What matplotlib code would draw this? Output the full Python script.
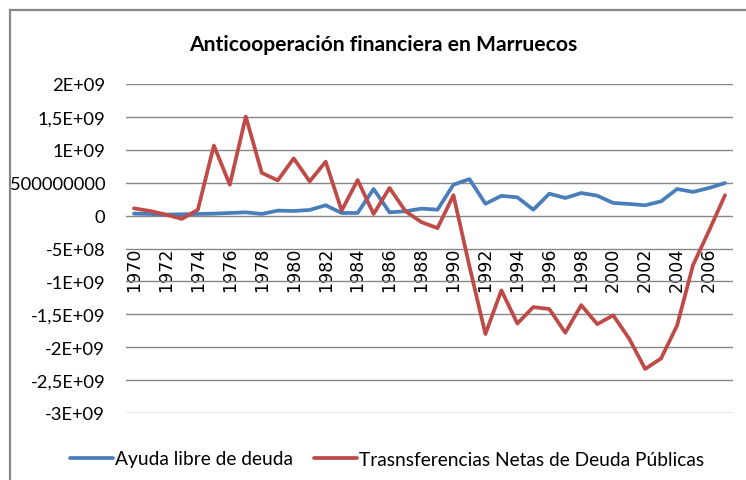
import numpy as np
import matplotlib
matplotlib.use("Agg")
import matplotlib.pyplot as plt
from matplotlib.lines import Line2D

years = list(range(1970, 2008))
ayuda = [3e7, 2.5e7, 1.5e7, 2e7, 2.5e7, 3e7, 4e7, 5e7, 2.5e7, 7.6e7,
         7e7, 8.6e7, 1.57e8, 4e7, 4e7, 4.04e8, 5e7, 6.6e7, 1.06e8, 9e7,
         4.7e8, 5.55e8, 1.8e8, 3.0e8, 2.78e8, 9e7, 3.33e8, 2.68e8, 3.43e8, 3.03e8,
         1.92e8, 1.77e8, 1.57e8, 2.17e8, 4.04e8, 3.6e8, 4.2e8, 4.95e8]
transferencias = [1.1e8, 7e7, 1.5e7, -5e7, 9e7, 1.065e9, 4.7e8, 1.505e9, 6.5e8, 5.35e8,
                  8.7e8, 5.2e8, 8.2e8, 7.6e7, 5.4e8, 2.5e7, 4.2e8, 6.6e7, -1e8, -1.9e8,
                  3.1e8, -7.7e8, -1.8e9, -1.136e9, -1.64e9, -1.39e9, -1.42e9, -1.78e9, -1.36e9, -1.65e9,
                  -1.515e9, -1.87e9, -2.33e9, -2.17e9, -1.67e9, -7.5e8, -2.3e8, 3.1e8]
y_ticks = [-3e9, -2.5e9, -2e9, -1.5e9, -1e9, -5e8, 0, 5e8, 1e9, 1.5e9, 2e9]
y_labels = ["-3E+09", "-2,5E+09", "-2E+09", "-1,5E+09", "-1E+09", "-5E+08", "0",
            "500000000", "1E+09", "1,5E+09", "2E+09"]
series_names = ["Ayuda libre de deuda", "Trasnsferencias Netas de Deuda Públicas"]
title = "Anticooperación financiera en Marruecos"

W, H = 746, 481
fig = plt.figure(figsize=(W / 100, H / 100), dpi=100)
fig.patch.set_facecolor("white")

ax = fig.add_axes([126 / W, 1 - 414 / H, 607 / W, 329 / H])
x = np.arange(len(years))
ax.set_xlim(-0.5, len(years) - 0.5)
ax.set_ylim(-3e9, 2e9)

ax.set_yticks(y_ticks)
ax.set_yticklabels(y_labels, fontfamily="Lato", fontsize=13.2)
ax.grid(axis="y", color="#878787", lw=1.0)
ax.set_axisbelow(True)
for s in ax.spines.values():
    s.set_visible(False)
ax.spines["bottom"].set_position(("data", 0))
ax.tick_params(axis="y", length=0, pad=15)
ax.tick_params(axis="x", length=0, pad=22)

xt = x[::2]
ax.set_xticks(xt)
ax.set_xticklabels([str(years[i]) for i in xt], rotation=90,
                   fontfamily="DejaVu Sans", fontsize=12.6)

l1, = ax.plot(x, ayuda, color="#4A7EBB", lw=2.7, solid_joinstyle="round",
              solid_capstyle="round", label=series_names[0])
l2, = ax.plot(x, transferencias, color="#BE4B48", lw=2.7, solid_joinstyle="round",
              solid_capstyle="round", label=series_names[1])

fig.text(383 / W, 1 - 45 / H, title, ha="center", va="center",
         fontfamily="Lato", fontweight="bold", fontsize=15.2)

fig.legend(handles=[l1, l2], loc="center", bbox_to_anchor=(387 / W, 1 - 460 / H),
           ncol=2, frameon=False, prop={"family": "Lato", "size": 13.8},
           handlelength=2.25, handletextpad=0.1, columnspacing=1.1)

fig.add_artist(Line2D([10 / W, 10 / W], [0, 1 - 11 / H], color="#868686", lw=1.6,
                      transform=fig.transFigure))
fig.add_artist(Line2D([10 / W, 1], [1 - 11 / H, 1 - 11 / H], color="#868686", lw=1.6,
                      transform=fig.transFigure))

fig.savefig("out.png", dpi=100, facecolor="white")
